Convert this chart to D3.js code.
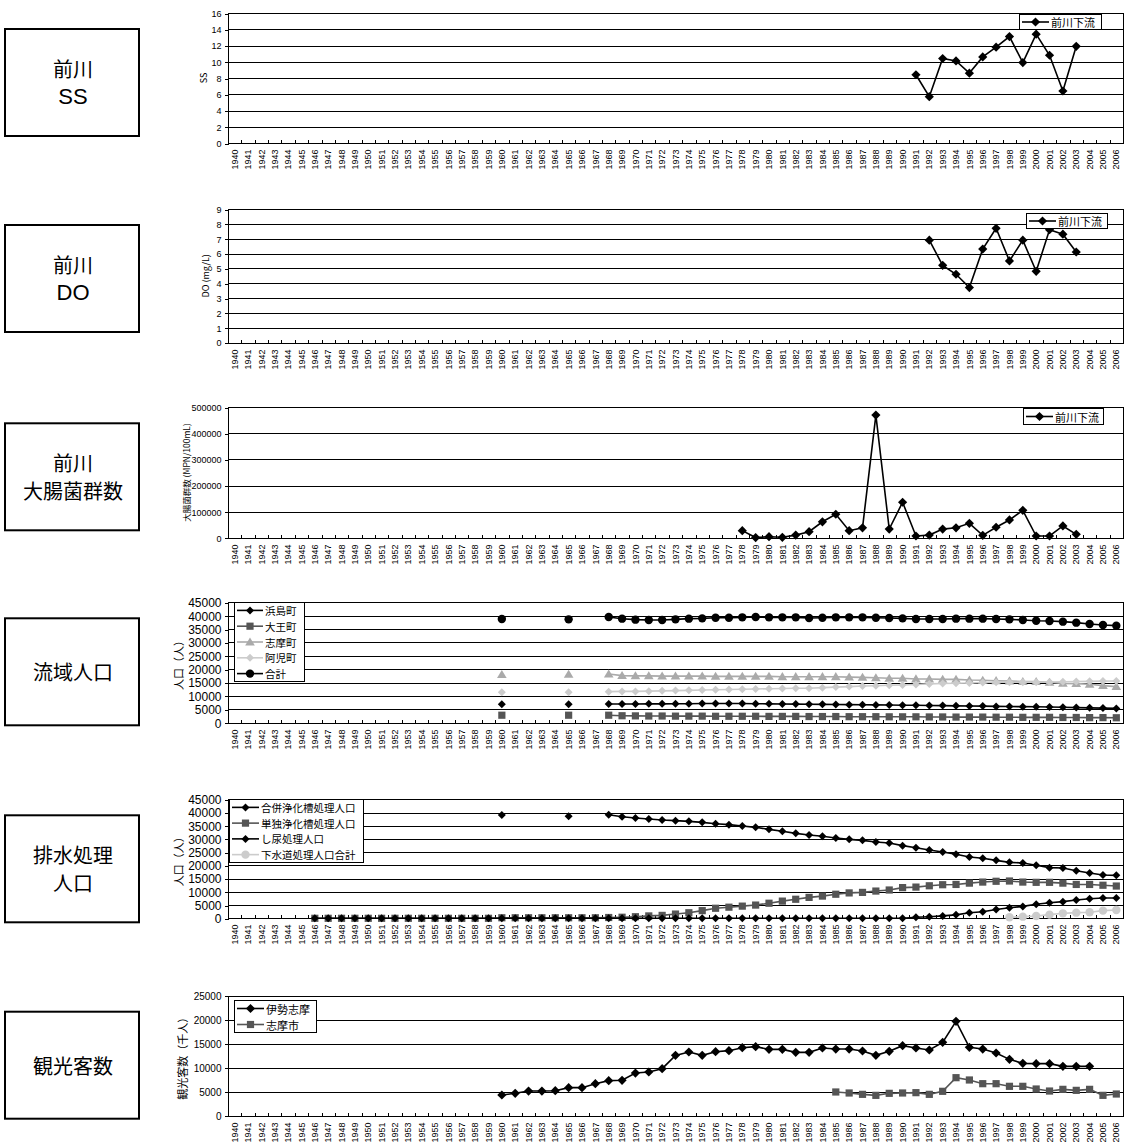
<!DOCTYPE html>
<html><head><meta charset="utf-8">
<script src="https://cdn.jsdelivr.net/npm/d3@7"></script>
<style>body{margin:0;background:#fff}svg{display:block}</style>
</head><body>
<svg id="c" width="1129" height="1146"></svg>
<script>
// ---------- DATA ----------
const years = [1940,1941,1942,1943,1944,1945,1946,1947,1948,1949,1950,1951,1952,1953,1954,1955,1956,1957,1958,1959,
  1960,1961,1962,1963,1964,1965,1966,1967,1968,1969,1970,1971,1972,1973,1974,1975,1976,1977,1978,1979,
  1980,1981,1982,1983,1984,1985,1986,1987,1988,1989,1990,1991,1992,1993,1994,1995,1996,1997,1998,1999,
  2000,2001,2002,2003,2004,2005,2006];

const ssYears = [1991,1992,1993,1994,1995,1996,1997,1998,1999,2000,2001,2002,2003];
const ssValues = [8.4,5.7,10.4,10.1,8.6,10.6,11.8,13.1,9.9,13.4,10.8,6.4,11.9];

const doYears = [1992,1993,1994,1995,1996,1997,1998,1999,2000,2001,2002,2003];
const doValues = [6.9,5.2,4.6,3.7,6.3,7.7,5.5,6.9,4.8,7.6,7.3,6.1];

const coliYears = [1978,1979,1980,1981,1982,1983,1984,1985,1986,1987,1988,1989,1990,1991,1992,1993,1994,1995,1996,1997,1998,1999,2000,2001,2002,2003];
const coliValues = [27000,500,3800,1500,10000,23000,61000,90000,27000,38000,470000,33000,136000,6500,10000,33000,38000,55000,9000,40000,68000,105000,6500,6500,45000,13000];

const popYears = [1960,1961,1962,1963,1964,1965,1966,1967,1968,1969,1970,1971,1972,1973,1974,1975,1976,1977,1978,1979,
  1980,1981,1982,1983,1984,1985,1986,1987,1988,1989,1990,1991,1992,1993,1994,1995,1996,1997,1998,1999,
  2000,2001,2002,2003,2004,2005,2006];
const hamajima = [6900,null,null,null,null,6900,null,null,
  7000,7000,7000,7050,7050,7100,7100,7150,7150,7200,7150,7100,7050,7000,6950,6900,6850,6800,6750,6700,6650,6600,
  6550,6500,6450,6400,6300,6250,6200,6100,6050,6000,5950,5850,5750,5650,5550,5450,5350];
const daio = [2800,null,null,null,null,2800,null,null,
  2800,2600,2550,2500,2500,2450,2450,2450,2400,2400,2400,2400,2350,2350,2350,2300,2300,2300,2250,2250,2250,2200,
  2200,2200,2150,2150,2100,2100,2100,2050,2050,2000,2000,2000,1950,1950,1900,1900,1850];
const shima = [18000,null,null,null,null,18100,null,null,
  18200,17600,17500,17500,17400,17400,17400,17400,17300,17300,17300,17300,17300,17200,17200,17200,17200,17200,17050,16950,16800,16600,
  16600,16350,16350,16200,16200,15960,15850,15700,15600,15350,15350,15100,14700,14600,14350,13850,13470];
const ago = [11400,null,null,null,null,11400,null,null,
  11600,11700,11700,11800,11900,12000,12100,12200,12300,12400,12500,12600,12700,12800,12850,12900,13100,13300,13500,13700,13800,14000,
  14100,14300,14500,14650,14750,14850,15000,15100,15100,15150,15150,15200,15300,15400,15450,15550,15600];
const popTotal = [38760,null,null,null,null,38630,null,null,
  39500,38880,38510,38380,38380,38630,38880,39000,39250,39250,39380,39500,39380,39380,39380,39130,39250,39380,39380,39380,39250,39130,
  39000,38760,38760,38760,38880,38880,38880,38760,38630,38380,38130,38010,37760,37390,36890,36520,36270];

const treatYears = [1946,1947,1948,1949,1950,1951,1952,1953,1954,1955,1956,1957,1958,1959,
  1960,1961,1962,1963,1964,1965,1966,1967,1968,1969,1970,1971,1972,1973,1974,1975,1976,1977,1978,1979,
  1980,1981,1982,1983,1984,1985,1986,1987,1988,1989,1990,1991,1992,1993,1994,1995,1996,1997,1998,1999,
  2000,2001,2002,2003,2004,2005,2006];
const gappei = [0,0,0,0,0,0,0,0,0,0,0,0,0,0,
  0,0,0,0,0,0,0,0,0,0,0,0,0,0,0,0,0,0,0,0,
  0,0,0,0,0,0,0,0,0,0,0,400,600,900,1300,2100,2500,3300,4000,4500,
  5300,5900,6300,6900,7400,7700,7700];
const tandoku = [0,0,0,0,0,0,0,0,0,0,0,0,0,0,
  200,200,200,200,200,200,200,200,300,400,600,900,1100,1600,2100,2900,3800,4200,4600,5000,
  5700,6500,7200,7900,8400,9100,9600,9800,10300,10700,11600,11800,12300,12700,12800,13300,13700,14000,14100,13700,
  13600,13600,13300,12800,12800,12500,12200];
const shinyoYears = popYears;
const shinyo = [39060,null,null,null,null,38560,null,null,
  39180,38430,37930,37550,37170,36920,36670,36290,35780,35410,34900,34400,33640,32890,32130,31500,31000,30370,29860,29480,28850,28470,
  27470,26710,25830,25070,24190,23180,22680,21920,21160,20910,20030,19150,19020,18010,17130,16370,16250];
const sewerYears = [1998,1999,2000,2001,2002,2003,2004,2005,2006];
const sewer = [400,620,870,1380,1880,2130,2260,2900,3150];

const iseYears = [1960,1961,1962,1963,1964,1965,1966,1967,1968,1969,1970,1971,1972,1973,1974,1975,1976,1977,1978,1979,
  1980,1981,1982,1983,1984,1985,1986,1987,1988,1989,1990,1991,1992,1993,1994,1995,1996,1997,1998,1999,2000,2001,2002,2003,2004];
const iseValues = [4310,4660,5140,5140,5210,5840,5840,6670,7300,7370,8890,9100,9800,12570,13270,12570,13340,13550,14170,14380,
  13820,13820,13200,13200,14100,13890,13890,13480,12570,13410,14590,14100,13690,15280,19660,14240,13890,13060,11740,10910,10840,10840,10280,10280,10280];
const shimaCityYears = [1985,1986,1987,1988,1989,1990,1991,1992,1993,1994,1995,1996,1997,1998,1999,2000,2001,2002,2003,2004,2005,2006];
const shimaCityValues = [4940,4730,4450,4240,4660,4730,4800,4450,5080,7920,7440,6670,6670,6120,6120,5560,5140,5490,5280,5490,4240,4520];

// ---------- STYLES / LAYOUT ----------
const JP = "'Noto Sans CJK JP','Noto Sans',sans-serif";
const NUM = "'Liberation Sans',Arial,sans-serif";
const X_LEFT = 228, X_RIGHT = 1123;
const svg = d3.select('#c');

function zip(xs, vs){ return xs.map((x,i)=>({x, v: vs[i]})); }

const panels = [
  {box:['前川','SS'], top:13, bottom:143, ymax:16, step:2, ytitle:'SS', tfs:9, yfs:9, tx:203,
   legend:{x:1019,y:14,w:82,h:15,fs:11,lineLen:27},
   series:[{name:'前川下流', data:zip(ssYears,ssValues), color:'#000', marker:'diamond'}]},
  {box:['前川','DO'], top:209, bottom:342.5, ymax:9, step:1, ytitle:'DO (mg/L)', tfs:9, yfs:9, tx:205,
   legend:{x:1026,y:213,w:81,h:15,fs:11,lineLen:27},
   series:[{name:'前川下流', data:zip(doYears,doValues), color:'#000', marker:'diamond'}]},
  {box:['前川','大腸菌群数'], top:407.3, bottom:537.7, ymax:500000, step:100000, ytitle:'大腸菌群数 (MPN/100mL)', tfs:8.5, yfs:9, tx:186,
   legend:{x:1023,y:408,w:80,h:16,fs:11,lineLen:27},
   series:[{name:'前川下流', data:zip(coliYears,coliValues), color:'#000', marker:'diamond'}]},
  {box:['流域人口'], top:602.3, bottom:722.7, ymax:45000, step:5000, ytitle:'人口（人）', tfs:11, yfs:12, tx:178,
   legend:{x:234,y:602,w:70,h:79,fs:10.5,lineLen:26},
   series:[
    {name:'浜島町', data:zip(popYears,hamajima), color:'#000', marker:'diamond', r:4},
    {name:'大王町', data:zip(popYears,daio), color:'#555', marker:'square'},
    {name:'志摩町', data:zip(popYears,shima), color:'#aaa', marker:'triangle'},
    {name:'阿児町', data:zip(popYears,ago), color:'#ccc', marker:'diamond', r:4},
    {name:'合計', data:zip(popYears,popTotal), color:'#000', marker:'circle'}]},
  {box:['排水処理','人口'], top:799.3, bottom:918.3, ymax:45000, step:5000, ytitle:'人口（人）', tfs:11, yfs:12, tx:178,
   legend:{x:229,y:799,w:134,h:63,fs:10.5,lineLen:27},
   series:[
    {name:'合併浄化槽処理人口', data:zip(treatYears,gappei), color:'#000', marker:'diamond', r:4},
    {name:'単独浄化槽処理人口', data:zip(treatYears,tandoku), color:'#555', marker:'square'},
    {name:'し尿処理人口', data:zip(shinyoYears,shinyo), color:'#000', marker:'diamond', r:4},
    {name:'下水道処理人口合計', data:zip(sewerYears,sewer), color:'#ccc', marker:'circle'}],
   drawOrder:[1,0,2,3]},
  {box:['観光客数'], top:995.7, bottom:1115.7, ymax:25000, step:5000, ytitle:'観光客数（千人）', tfs:11, yfs:10, tx:182,
   legend:{x:234,y:1000,w:82,h:32,fs:11,lineLen:27},
   series:[
    {name:'伊勢志摩', data:zip(iseYears,iseValues), color:'#000', marker:'diamond'},
    {name:'志摩市', data:zip(shimaCityYears,shimaCityValues), color:'#555', marker:'square'}]}
];

function markerPath(type, r){
  if(type==='diamond') return `M0,${-r}L${r},0L0,${r}L${-r},0Z`;
  if(type==='square') return `M${-r},${-r}H${r}V${r}H${-r}Z`;
  if(type==='triangle') return `M0,${-r}L${r*1.05},${r*0.75}L${-r*1.05},${r*0.75}Z`;
  if(type==='circle') return d3.symbol(d3.symbolCircle, Math.PI*r*r)();
}
function defaultR(s){ return s.r || ({diamond:4.6,square:3.6,triangle:4.6,circle:4.2})[s.marker]; }

const x = d3.scaleBand().domain(years).range([X_LEFT, X_RIGHT]);
const bw = x.bandwidth();
const cx = yr => x(yr) + bw/2;

panels.forEach(p => {
  const g = svg.append('g');
  const y = d3.scaleLinear().domain([0,p.ymax]).range([p.bottom,p.top]);
  const ticks = d3.range(0, p.ymax + p.step/2, p.step);

  // left label box
  const bx = 5, by = p.top + 16, bwid = 134, bh = 107;
  g.append('rect').attr('x',bx).attr('y',by).attr('width',bwid).attr('height',bh)
    .attr('fill','#fff').attr('stroke','#000').attr('stroke-width',2);
  const lines = p.box;
  const lh = 28;
  lines.forEach((t,i)=>{
    const latin = /^[A-Za-z]+$/.test(t);
    g.append('text').attr('x', bx+bwid/2+1).attr('y', by+bh/2 + (i-(lines.length-1)/2)*lh)
      .attr('text-anchor','middle').attr('dominant-baseline','central')
      .attr('font-family', latin ? NUM : JP).attr('font-size', latin ? 22 : 20).attr('fill','#000').text(t);
  });

  // gridlines
  g.append('g').selectAll('line').data(ticks).join('line')
    .attr('x1',X_LEFT).attr('x2',X_RIGHT)
    .attr('y1',d=>Math.round(y(d))+0.5).attr('y2',d=>Math.round(y(d))+0.5)
    .attr('stroke','#000').attr('stroke-width',1).attr('shape-rendering','crispEdges');
  // frame
  g.append('rect').attr('x',X_LEFT+0.5).attr('y',Math.round(p.top)+0.5)
    .attr('width',X_RIGHT-X_LEFT).attr('height',Math.round(p.bottom)-Math.round(p.top))
    .attr('fill','none').attr('stroke','#000').attr('stroke-width',1).attr('shape-rendering','crispEdges');

  // y axis
  const ya = g.append('g').attr('transform',`translate(${X_LEFT+0.5},0.5)`)
    .call(d3.axisLeft(y).tickValues(ticks).tickSize(4).tickPadding(3).tickFormat(d3.format('d')));
  ya.select('.domain').remove();
  ya.selectAll('line').attr('stroke','#000').attr('shape-rendering','crispEdges');
  ya.selectAll('text').attr('font-family',NUM).attr('font-size',p.yfs).attr('fill','#000');

  // x axis: labels
  const xa = g.append('g').attr('transform',`translate(0,${Math.round(p.bottom)+0.5})`)
    .call(d3.axisBottom(x).tickSize(0).tickPadding(0));
  xa.select('.domain').remove();
  xa.selectAll('text').attr('transform','rotate(-90)').attr('x',-6).attr('y',0).attr('dy','0.35em')
    .attr('text-anchor','end').attr('font-family',NUM).attr('font-size',9).attr('fill','#000');
  // x category tick marks (inward, at band boundaries)
  const bounds = years.map(yr=>x(yr)).concat([X_RIGHT]);
  g.append('g').selectAll('line').data(bounds).join('line')
    .attr('x1',d=>Math.round(d)+0.5).attr('x2',d=>Math.round(d)+0.5)
    .attr('y1',Math.round(p.bottom)).attr('y2',Math.round(p.bottom)-3)
    .attr('stroke','#000').attr('shape-rendering','crispEdges');

  // y title
  g.append('text').attr('transform',`translate(${p.tx},${(p.top+p.bottom)/2}) rotate(-90)`)
    .attr('text-anchor','middle').attr('dominant-baseline','central')
    .attr('font-family',JP).attr('font-size',p.tfs).attr('fill','#000').text(p.ytitle);

  // series
  const order = p.drawOrder || p.series.map((_,i)=>i);
  order.forEach(i => {
    const s = p.series[i];
    const line = d3.line().defined(d=>d.v!=null).x(d=>cx(d.x)).y(d=>y(d.v));
    g.append('path').datum(s.data).attr('d',line).attr('fill','none')
      .attr('stroke',s.color).attr('stroke-width',1.6);
    const r = defaultR(s);
    g.append('g').selectAll('path').data(s.data.filter(d=>d.v!=null)).join('path')
      .attr('transform',d=>`translate(${cx(d.x)},${y(d.v)})`)
      .attr('d',markerPath(s.marker,r)).attr('fill',s.color);
  });

  // legend
  const L = p.legend;
  g.append('rect').attr('x',L.x+0.5).attr('y',L.y+0.5).attr('width',L.w).attr('height',L.h)
    .attr('fill','#fff').attr('stroke','#000').attr('stroke-width',1).attr('shape-rendering','crispEdges');
  const n = p.series.length;
  const rowH = L.h / n;
  p.series.forEach((s,i)=>{
    const yy = L.y + rowH*(i+0.5) + 0.5;
    const x0 = L.x + 3, x1 = x0 + L.lineLen;
    g.append('line').attr('x1',x0).attr('x2',x1).attr('y1',yy).attr('y2',yy)
      .attr('stroke',s.color).attr('stroke-width',1.6);
    g.append('path').attr('transform',`translate(${(x0+x1)/2},${yy})`)
      .attr('d',markerPath(s.marker,defaultR(s))).attr('fill',s.color);
    g.append('text').attr('x',x1+2).attr('y',yy).attr('dominant-baseline','central')
      .attr('font-family',JP).attr('font-size',L.fs).attr('fill','#000').text(s.name);
  });
});
</script>
</body></html>
